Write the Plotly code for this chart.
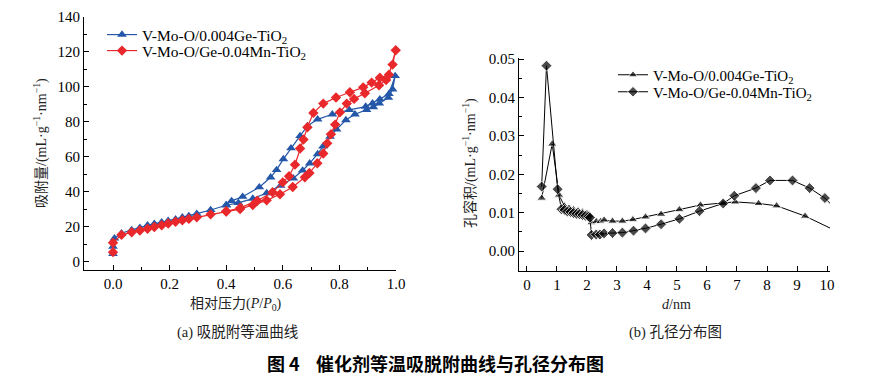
import plotly.graph_objects as go

# ---------------- data: (a) adsorption-desorption isotherms ----------------
ge_ads_p = [0.0, 0.0, 0.005, 0.03, 0.066, 0.095, 0.122, 0.146, 0.172, 0.195, 0.221, 0.245, 0.268, 0.296,
            0.345, 0.40, 0.443, 0.494, 0.543, 0.592, 0.637, 0.67, 0.695, 0.723, 0.742, 0.767, 0.79, 0.823,
            0.855, 0.896, 0.92, 0.941, 0.973, 0.988, 0.997]
ge_ads_v = [4.6, 8.8, 13.5, 16.4, 18.3, 19.6, 21.0, 21.9, 22.7, 23.6, 24.4, 25.5, 26.3, 27.6,
            29.7, 32.4, 33.8, 36.2, 39.4, 43.6, 47.8, 52.3, 56.4, 61.7, 66.0, 71.6, 75.8, 81.1,
            84.4, 86.9, 88.5, 90.7, 93.9, 98.7, 106.3]
ge_des_p = [0.975, 0.943, 0.917, 0.893, 0.835, 0.775, 0.723, 0.687, 0.661, 0.629, 0.602, 0.578, 0.557,
            0.517, 0.458, 0.419, 0.40]
ge_des_v = [96.0, 93.0, 90.7, 88.8, 86.9, 84.4, 81.5, 77.7, 72.0, 65.0, 58.8, 52.6, 48.4,
            42.7, 37.3, 34.9, 32.6]

mn_ads_p = [0.0, 0.0, 0.03, 0.066, 0.095, 0.122, 0.146, 0.172, 0.195, 0.221, 0.245, 0.268, 0.296,
            0.345, 0.40, 0.449, 0.494, 0.543, 0.59, 0.635, 0.678, 0.694, 0.722, 0.743, 0.757, 0.77,
            0.785, 0.802, 0.826, 0.852, 0.89, 0.94, 0.965, 0.988, 0.999]
mn_ads_v = [5.6, 11.0, 15.5, 17.0, 18.0, 19.0, 20.0, 21.0, 22.0, 23.0, 23.8, 24.6, 25.5,
            27.2, 28.8, 30.2, 32.5, 35.2, 38.7, 42.8, 48.4, 50.8, 56.4, 62.0, 67.8, 73.0,
            78.5, 85.5, 90.5, 93.2, 96.4, 101.0, 104.0, 112.8, 121.0]
mn_des_p = [0.975, 0.943, 0.914, 0.884, 0.837, 0.788, 0.743, 0.708, 0.687, 0.673, 0.661, 0.643, 0.622,
            0.60, 0.564, 0.51, 0.45, 0.40]
mn_des_v = [107.0, 105.3, 102.5, 99.8, 97.0, 94.0, 90.5, 85.2, 77.0, 70.0, 64.8, 55.6, 49.0,
            45.5, 39.8, 35.0, 31.0, 29.0]

# ---------------- data: (b) pore size distribution ----------------
ge_d = [0.49, 0.84, 1.07, 1.24, 1.40, 1.55, 1.70, 1.85, 2.00, 2.08, 2.15, 2.31, 2.45, 2.57, 2.85, 3.18,
        3.53, 3.95, 4.47, 5.08, 5.78, 6.54, 6.94, 7.72, 8.32, 9.27, 10.18]
ge_pv = [0.0138, 0.0279, 0.0146, 0.0118, 0.0112, 0.0108, 0.0105, 0.0102, 0.0098, 0.0094, 0.0074, 0.0077,
         0.0077, 0.0081, 0.0078, 0.0078, 0.0082, 0.0089, 0.0096, 0.0108, 0.0120, 0.0124, 0.0128, 0.0124,
         0.0118, 0.0091, 0.0057]
mn_d = [0.49, 0.65, 1.02, 1.15, 1.25, 1.35, 1.45, 1.55, 1.65, 1.75, 1.85, 1.95, 2.05, 2.10, 2.15, 2.31,
        2.43, 2.57, 2.85, 3.18, 3.55, 3.95, 4.47, 5.08, 5.75, 6.54, 6.91, 7.63, 8.10, 8.85, 9.42, 9.93, 10.18]
mn_pv = [0.0168, 0.0483, 0.0161, 0.0109, 0.0107, 0.0103, 0.0102, 0.0099, 0.0097, 0.0096, 0.0094, 0.0092,
         0.0090, 0.0087, 0.0042, 0.0043, 0.0043, 0.0046, 0.0047, 0.0048, 0.0053, 0.0059, 0.0070, 0.0084,
         0.0104, 0.0124, 0.0144, 0.0164, 0.0184, 0.0184, 0.0164, 0.0138, 0.0118]

name_ge = "V-Mo-O/0.004Ge-TiO<sub>2</sub>"
name_mn = "V-Mo-O/Ge-0.04Mn-TiO<sub>2</sub>"

BLUE = "#2457A8"
RED = "#E8282B"
FONT = "Liberation Serif, Noto Sans CJK SC"

fig = go.Figure()

fig.add_trace(go.Scatter(
    x=ge_ads_p + ge_des_p, y=ge_ads_v + ge_des_v, name=name_ge, mode="lines+markers",
    line=dict(color=BLUE, width=1.2), marker=dict(symbol="triangle-up", size=8.5, color=BLUE),
    cliponaxis=False, xaxis="x", yaxis="y", legend="legend"))
fig.add_trace(go.Scatter(
    x=mn_ads_p + mn_des_p, y=mn_ads_v + mn_des_v, name=name_mn, mode="lines+markers",
    line=dict(color=RED, width=1.2), marker=dict(symbol="diamond", size=8, color=RED),
    cliponaxis=False, xaxis="x", yaxis="y", legend="legend2"))

fig.add_trace(go.Scatter(
    x=ge_d, y=ge_pv, name=name_ge, mode="lines+markers",
    line=dict(color="black", width=1), marker=dict(symbol="triangle-up", size=[8.5] * (len(ge_d) - 1) + [0],
                                                   color="black"),
    xaxis="x2", yaxis="y2", legend="legend3"))
fig.add_trace(go.Scatter(
    x=mn_d, y=mn_pv, name=name_mn, mode="lines+markers",
    line=dict(color="black", width=1), marker=dict(symbol="diamond", size=[8.5] * (len(mn_d) - 1) + [0],
                                                   color="black"),
    xaxis="x2", yaxis="y2", legend="legend4"))

W, H = 887, 379


def px_x(p):
    return p / W


def px_y(p):
    return 1 - p / H


axis_common = dict(showline=True, linecolor="black", linewidth=1, ticks="inside", ticklen=5,
                   tickcolor="black", showgrid=False, zeroline=False, mirror=False, automargin=False,
                   tickfont=dict(family=FONT, size=15, color="black"))


def leg(xp, yp, size):
    return dict(x=px_x(xp), y=px_y(yp), xanchor="left", yanchor="middle", bgcolor="rgba(0,0,0,0)",
                font=dict(family=FONT, size=size, color="black"), itemwidth=30, borderwidth=0)


fig.update_layout(
    width=W, height=H, margin=dict(l=0, r=0, t=0, b=0, pad=0, autoexpand=False),
    paper_bgcolor="white", plot_bgcolor="white",
    font=dict(family=FONT, color="black"),
    xaxis=dict(domain=[px_x(84), px_x(396)], range=[-0.1025, 1.0], dtick=0.2, tick0=0, tickformat=".1f",
               minor=dict(dtick=0.1, ticks="inside", ticklen=3, tickcolor="black"),
               anchor="y", **axis_common),
    yaxis=dict(domain=[px_y(270), px_y(17)], range=[-4.6, 140], dtick=20, tick0=0,
               minor=dict(dtick=10, ticks="inside", ticklen=3, tickcolor="black"),
               anchor="x", **axis_common),
    xaxis2=dict(domain=[px_x(519), px_x(830)], range=[-0.266, 10.1], dtick=1, tick0=0,
                anchor="y2", **axis_common),
    yaxis2=dict(domain=[px_y(271), px_y(58)], range=[-0.0052, 0.0503], dtick=0.01, tick0=0, tickformat=".2f",
                minor=dict(dtick=0.005, ticks="inside", ticklen=3, tickcolor="black"),
                anchor="x2", **axis_common),
    legend=leg(102, 35, 15.5),
    legend2=leg(102, 51, 15.5),
    legend3=leg(613, 75, 15),
    legend4=leg(613, 92, 15),
    showlegend=True,
)

annots = [
    dict(text="吸附量/(mL·g<sup>−1</sup>·nm<sup>−1</sup>)", x=px_x(40), y=px_y(143), textangle=-90, size=14),
    dict(text="孔容积/(mL·g<sup>−1</sup>·nm<sup>−1</sup>)", x=px_x(470), y=px_y(163), textangle=-90, size=14),
    dict(text="相对压力(<i>P</i>/<i>P</i><sub>0</sub>)", x=px_x(236), y=px_y(304), textangle=0, size=14),
    dict(text="<i>d</i>/nm", x=px_x(676), y=px_y(304), textangle=0, size=14),
    dict(text="(a) 吸脱附等温曲线", x=px_x(237), y=px_y(332), textangle=0, size=14.5),
    dict(text="(b) 孔径分布图", x=px_x(675), y=px_y(332), textangle=0, size=14.5),
]
for a in annots:
    fig.add_annotation(text=a["text"], x=a["x"], y=a["y"], xref="paper", yref="paper",
                       xanchor="center", yanchor="middle", showarrow=False, textangle=a["textangle"],
                       font=dict(family=FONT, size=a["size"], color="#222"))

fig.add_annotation(text="<b>图 4    催化剂等温吸脱附曲线与孔径分布图</b>", x=px_x(435), y=px_y(363),
                   xref="paper", yref="paper", xanchor="center", yanchor="middle", showarrow=False,
                   font=dict(family="Noto Sans CJK SC", size=18, color="black"))

fig.write_html("out.html", config={"displayModeBar": False})

# remove the default page margin so the figure sits at the window's top-left corner
with open("out.html", "r", encoding="utf-8") as f:
    html = f.read()
html = html.replace("<head>", "<head><style>html,body{margin:0;padding:0;overflow:hidden;}</style>", 1)
with open("out.html", "w", encoding="utf-8") as f:
    f.write(html)
